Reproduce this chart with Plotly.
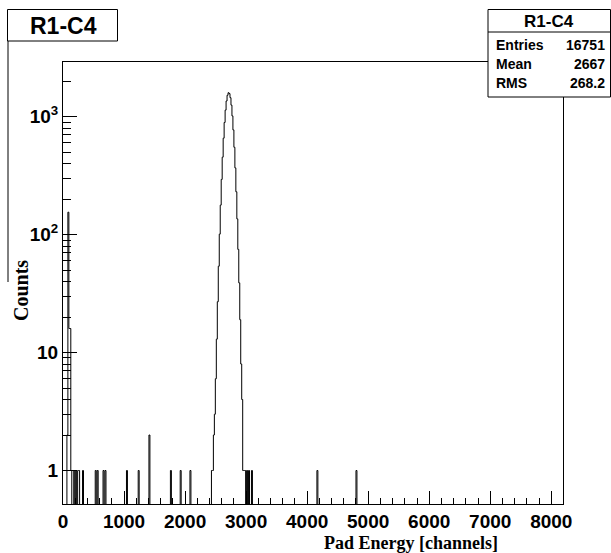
import plotly.graph_objects as go

# ---------------- data ----------------
bin_width = 16
n_bins = 512  # 0 .. 8192 channels

# main peak: first bin lower edge and consecutive bin counts
peak_start = 2432
peak_counts = [1, 1, 2, 3, 6, 13, 27, 54, 101, 178, 294, 454, 658, 894, 1138,
               1359, 1521, 1597, 1571, 1450, 1254, 1016, 773, 551, 368, 231,
               136, 75, 39, 19, 8, 4, 1, 1, 1]

# low-energy bins and isolated outlier bins (lower edge, count)
outlier_channels = [64, 80, 96, 112, 128, 176, 208, 240, 256, 320, 528, 560,
                    656, 688, 1040, 1232, 1408, 1760, 1920, 2080, 3008, 3040,
                    3088, 4160, 4800]
outlier_counts = [2, 155, 16, 16, 1, 1, 1, 1, 1, 1, 1, 1,
                  1, 1, 1, 1, 2, 1, 1, 1, 1, 1,
                  1, 1, 1]

x_tick_vals = [0, 1000, 2000, 3000, 4000, 5000, 6000, 7000, 8000]
x_tick_text = ["0", "1000", "2000", "3000", "4000", "5000", "6000", "7000", "8000"]
y_tick_vals = [1, 10, 100, 1000]
y_tick_text = ["1", "10", "10<sup>2</sup>", "10<sup>3</sup>"]

stats_labels = ["Entries", "Mean", "RMS"]
stats_values = ["16751", "2667", "268.2"]
hist_name = "R1-C4"

# ---------------- build histogram ----------------
counts = [0] * n_bins
for i, c in enumerate(peak_counts):
    counts[peak_start // bin_width + i] = c
for ch, c in zip(outlier_channels, outlier_counts):
    counts[ch // bin_width] = c

floor = 0.2  # below axis minimum, so empty bins sit at the frame bottom
edges = [i * bin_width for i in range(n_bins + 1)]
ys = [c if c > 0 else floor for c in counts]
step_x = edges
step_y = ys + [ys[-1]]

fig = go.Figure()
fig.add_trace(go.Scatter(x=step_x, y=step_y, mode="lines", line_shape="hv",
                         line=dict(color="black", width=1), showlegend=False,
                         hoverinfo="skip"))

# ---------------- geometry helpers (pixel -> paper) ----------------
L, R, T, B = 63, 563, 62, 504
W, H = 611, 553


def px(x):
    return (x - L) / (R - L)


def py(y):
    return (B - y) / (B - T)


x_minor = [v for v in range(200, 8192, 200) if v % 1000 != 0]
y_minor = [m * 10 ** e for e in range(0, 4) for m in range(2, 10) if m * 10 ** e < 2900]

tick_font = dict(family="Liberation Sans", size=19, color="black", weight="bold")

fig.update_layout(
    width=W, height=H,
    margin=dict(l=L, r=W - R, t=T, b=H - B, pad=0),
    paper_bgcolor="white", plot_bgcolor="white",
    xaxis=dict(range=[0, 8192], tickvals=x_tick_vals, ticktext=x_tick_text,
               ticks="inside", ticklen=13, tickwidth=1, tickcolor="black",
               showline=True, mirror=True, linecolor="black", linewidth=1,
               showgrid=False, zeroline=False, tickfont=tick_font,
               minor=dict(tickvals=x_minor, ticks="inside", ticklen=6,
                          tickcolor="black", showgrid=False)),
    yaxis=dict(type="log", range=[-0.284, 3.464], tickvals=y_tick_vals,
               ticktext=y_tick_text, ticks="inside", ticklen=14, tickwidth=1,
               tickcolor="black", showline=True, mirror=True, linecolor="black",
               linewidth=1, showgrid=False, zeroline=False, tickfont=tick_font,
               minor=dict(tickvals=y_minor, ticks="inside", ticklen=8,
                          tickcolor="black", showgrid=False)),
)

shapes = []
# title box
shapes.append(dict(type="rect", xref="paper", yref="paper",
                   x0=px(7.5), x1=px(117.5), y0=py(41), y1=py(9.5),
                   line=dict(color="black", width=1), fillcolor="white", layer="above"))
# left pad edge line under title box
shapes.append(dict(type="line", xref="paper", yref="paper",
                   x0=px(8), x1=px(8), y0=py(41), y1=py(282),
                   line=dict(color="black", width=1), layer="above"))
# stats box
shapes.append(dict(type="rect", xref="paper", yref="paper",
                   x0=px(488), x1=px(610.5), y0=py(97), y1=py(9.5),
                   line=dict(color="black", width=1), fillcolor="white", layer="above"))
shapes.append(dict(type="line", xref="paper", yref="paper",
                   x0=px(488), x1=px(610.5), y0=py(32), y1=py(32),
                   line=dict(color="black", width=1), layer="above"))
fig.update_layout(shapes=shapes)

ann = []
ann.append(dict(x=px(63), y=py(25.5), xref="paper", yref="paper", showarrow=False,
                text="<b>" + hist_name + "</b>", xanchor="center", yanchor="middle",
                font=dict(family="Liberation Sans", size=23, color="black")))
ann.append(dict(x=px(549), y=py(21), xref="paper", yref="paper", showarrow=False,
                text="<b>" + hist_name + "</b>", xanchor="center", yanchor="middle",
                font=dict(family="Liberation Sans", size=17, color="black")))
row_y = [45, 64, 83]
for lab, val, yy in zip(stats_labels, stats_values, row_y):
    ann.append(dict(x=px(494), y=py(yy), xref="paper", yref="paper", showarrow=False,
                    text="<b>" + lab + "</b>", xanchor="left", yanchor="middle",
                    font=dict(family="Liberation Sans", size=14, color="black")))
    ann.append(dict(x=px(607), y=py(yy), xref="paper", yref="paper", showarrow=False,
                    text="<b>" + val + "</b>", xanchor="right", yanchor="middle",
                    font=dict(family="Liberation Sans", size=14, color="black")))
# axis titles
ann.append(dict(x=px(500), y=py(543), xref="paper", yref="paper", showarrow=False,
                text="<b>Pad Energy [channels]</b>", xanchor="right", yanchor="middle",
                font=dict(family="Liberation Serif", size=18, color="black")))
ann.append(dict(x=px(21), y=py(291), xref="paper", yref="paper", showarrow=False,
                text="<b>Counts</b>", textangle=-90, xanchor="center", yanchor="middle",
                font=dict(family="Liberation Serif", size=20, color="black")))
fig.update_layout(annotations=ann)

fig.write_html("out.html", config={"displayModeBar": False},
               post_script="document.body.style.margin='0';document.body.style.overflow='hidden';")
